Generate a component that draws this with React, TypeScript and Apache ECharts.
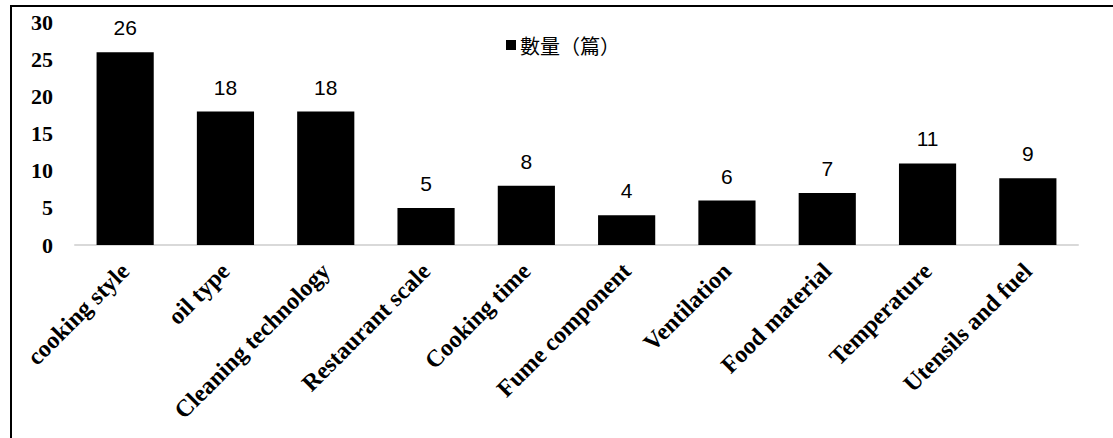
import React, { useEffect, useRef } from "react";
import * as echarts from "echarts";

const categories = [
  "cooking style",
  "oil type",
  "Cleaning technology",
  "Restaurant scale",
  "Cooking time",
  "Fume component",
  "Ventilation",
  "Food material",
  "Temperature",
  "Utensils and fuel",
];
const counts = [26, 18, 18, 5, 8, 4, 6, 7, 11, 9];
const seriesName = "數量（篇）";
const yTicks = { min: 0, max: 30, interval: 5 };

export default function App() {
  const ref = useRef<HTMLDivElement>(null);
  useEffect(() => {
    if (!ref.current) return;
    const chart = echarts.init(ref.current, null, { renderer: "svg" });
    chart.setOption({
      animation: false,
      backgroundColor: "#ffffff",
      grid: { left: 75, right: 35, top: 22.5, bottom: 193, containLabel: false },
      legend: {
        data: [seriesName],
        left: 501,
        top: 30,
        icon: "rect",
        itemWidth: 10,
        itemHeight: 10,
        itemGap: 4,
        textStyle: {
          fontFamily: "'Noto Sans CJK TC', sans-serif",
          fontSize: 20,
          color: "#000",
          padding: [0, 0, 0, -1],
        },
      },
      xAxis: {
        type: "category",
        data: categories,
        axisLine: { lineStyle: { color: "#d9d9d9", width: 2 } },
        axisTick: { show: false },
        axisLabel: {
          rotate: 45,
          interval: 0,
          margin: 22,
          fontFamily: "'Liberation Serif', 'Times New Roman', serif",
          fontWeight: "bold",
          fontSize: 24,
          color: "#000",
        },
      },
      yAxis: {
        type: "value",
        min: yTicks.min,
        max: yTicks.max,
        interval: yTicks.interval,
        splitLine: { show: false },
        axisLine: { show: false },
        axisTick: { show: false },
        axisLabel: {
          margin: 22,
          fontFamily: "'Liberation Serif', 'Times New Roman', serif",
          fontWeight: "bold",
          fontSize: 22,
          color: "#000",
        },
      },
      series: [
        {
          name: seriesName,
          type: "bar",
          data: counts,
          barCategoryGap: "43%",
          itemStyle: { color: "#000000" },
          label: {
            show: true,
            position: "top",
            distance: 14,
            fontFamily: "'Liberation Sans', 'Noto Sans', sans-serif",
            fontSize: 21,
            color: "#000",
          },
        },
      ],
      graphic: [
        {
          type: "polyline",
          shape: { points: [[11, 438], [11, 6], [1113, 6]] },
          style: { stroke: "#000", lineWidth: 2, fill: null },
          silent: true,
        },
      ],
    });
    return () => chart.dispose();
  }, []);
  return (
    <div
      ref={ref}
      style={{ position: "absolute", left: 0, top: 0, width: 1113, height: 438 }}
    />
  );
}
